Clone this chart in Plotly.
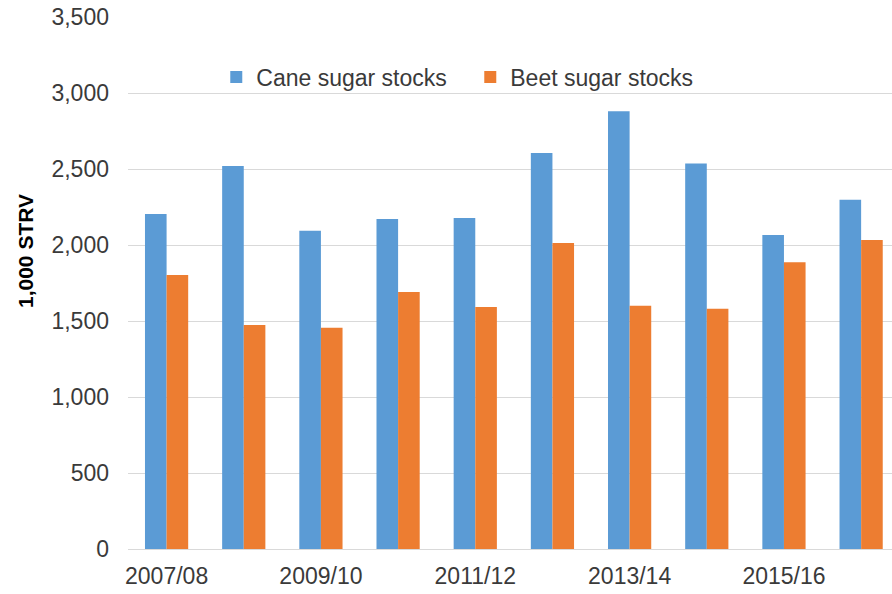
import plotly.graph_objects as go

# Marketing years and end-of-year stocks (1,000 short tons, raw value)
years = ["2007/08", "2008/09", "2009/10", "2010/11", "2011/12",
         "2012/13", "2013/14", "2014/15", "2015/16", "2016/17"]
cane_stocks = [2204, 2520, 2094, 2171, 2178, 2605, 2880, 2537, 2066, 2298]
beet_stocks = [1803, 1474, 1455, 1691, 1592, 2013, 1601, 1580, 1887, 2033]
labelled_years = years[::2]
y_ticks = [0, 500, 1000, 1500, 2000, 2500, 3000, 3500]

BLUE = "#5B9BD5"
ORANGE = "#ED7D31"
TEXT = "#3A3A3A"
GRID = "#D9D9D9"
FONT = "Liberation Sans, Arial, sans-serif"

fig = go.Figure()
fig.add_trace(go.Bar(name="Cane sugar stocks", x=years, y=cane_stocks,
                     marker=dict(color=BLUE, line=dict(width=0))))
fig.add_trace(go.Bar(name="Beet sugar stocks", x=years, y=beet_stocks,
                     marker=dict(color=ORANGE, line=dict(width=0))))

fig.update_layout(
    width=892, height=594,
    margin=dict(l=128, r=0, t=17, b=45),
    paper_bgcolor="white", plot_bgcolor="white",
    barmode="group", bargap=0.44, bargroupgap=0,
    font=dict(family=FONT, size=23, color=TEXT),
    legend=dict(orientation="h", x=0.448, xanchor="center",
                y=0.887, yanchor="middle",
                font=dict(family=FONT, size=23, color=TEXT),
                bgcolor="rgba(0,0,0,0)", itemwidth=30,
                entrywidth=209, entrywidthmode="pixels",
                traceorder="normal"),
    showlegend=True,
)

fig.update_xaxes(
    type="category", range=[-0.5, 9.40],
    tickmode="array", tickvals=labelled_years, ticktext=labelled_years,
    showgrid=False, showline=True, linecolor=GRID, linewidth=1,
    ticks="", tickfont=dict(family=FONT, size=23, color=TEXT),
    ticklabelstandoff=6, zeroline=False,
)
fig.update_yaxes(
    range=[0, 3500], tickvals=y_ticks, tickformat=",d",
    showgrid=True, gridcolor=GRID, gridwidth=1,
    showline=False, zeroline=False, ticks="",
    tickfont=dict(family=FONT, size=23, color=TEXT),
    ticklabelstandoff=18,
)

fig.add_annotation(
    text="<b>1,000 STRV</b>", textangle=-90,
    xref="paper", yref="paper",
    x=(25 - 128) / 764, y=(549 - 251) / 532,
    xanchor="center", yanchor="middle", showarrow=False,
    font=dict(family="Liberation Sans Narrow, Arial Narrow, Liberation Sans, Arial, sans-serif",
              size=21, color="#000000"),
)

fig.write_html("out.html")
